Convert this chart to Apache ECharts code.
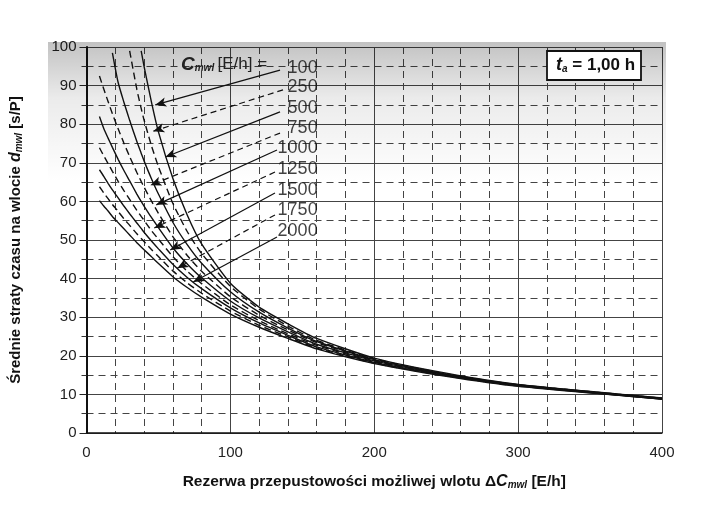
<!DOCTYPE html>
<html><head><meta charset="utf-8">
<script src="https://cdn.jsdelivr.net/npm/echarts@6/dist/echarts.min.js"></script>
<style>html,body{margin:0;padding:0;background:#fff}#c{width:706px;height:510px}</style>
</head><body><div id="c"></div>
<script>
// reserve capacity ΔC_mwl [E/h] (x positions where curves were read)
const reserve = [9,12,15,18,22,26,30,35,38,40,45,50,60,70,80,100,120,140,160,200,250,300,400];
// capacity C_mwl [E/h] of each curve
const capacities = [100,250,500,750,1000,1250,1500,1750,2000];
// mean delay d_mwl [s/P] read for each curve (null = above chart top)
const d100  = [null,null,null,null,null,null,null,null,99,95,86,78,66,56.5,49,38.8,32.6,28.3,24.5,19.4,15.5,12.6,9.1];
const d250  = [null,null,null,null,null,null,99,89,84.1,81.1,74.6,69,59.5,52.2,46.5,38,32.1,27.7,24,19.2,15.3,12.5,9];
const d500  = [null,null,null,98.5,90.8,85.7,81,75.5,72.5,70.5,66,61.9,54.6,48.8,44,36.6,31.3,27.2,23.7,19,15.2,12.5,9];
const d750  = [92.5,89.1,85.9,82.7,78.8,75.1,71.6,67.5,65.2,63.7,60.2,56.9,50.9,46,41.9,35.3,30.5,26.7,23.4,18.9,15.2,12.4,8.9];
const d1000 = [82,78.9,76.4,74,70.9,68,65.3,61.9,60,58.8,55.9,53.2,48,43.8,40.2,34.2,29.8,26.2,23,18.7,15.1,12.4,8.9];
const d1250 = [73.9,71.8,69.8,67.8,65.2,62.8,60.5,57.7,56.1,55.1,52.5,50.2,45.7,41.9,38.7,33.2,29.1,25.7,22.7,18.5,15,12.3,8.8];
const d1500 = [68.2,66.5,64.7,63,60.9,58.8,56.8,54.4,53,52,49.8,47.7,43.7,40.3,37.4,32.4,28.5,25.3,22.3,18.3,14.9,12.3,8.8];
const d1750 = [63.8,62.2,60.7,59.2,57.4,55.5,53.8,51.6,50.4,49.6,47.6,45.7,42,38.9,36.2,31.6,27.9,24.9,22,18.1,14.8,12.2,8.8];
const d2000 = [60.2,58.8,57.5,56.1,54.5,52.9,51.3,49.3,48.2,47.5,45.7,43.9,40.5,37.7,35.2,30.8,27.4,24.5,21.8,18,14.7,12.1,8.8];
const curves = [d100,d250,d500,d750,d1000,d1250,d1500,d1750,d2000];

// annotation layout (data coordinates): label column and arrow tips
const labelX = 161;
const labelY = [94.6,89.6,84.2,79,73.8,68.4,63,57.8,52.3];
const arrowStart = [[134.5,94],[136.6,88.9],[134.5,83.2],[134.5,77.7],[132.4,73.3],[131,67.6],[131,62.2],[131,56.5],[132.4,50.8]];
const arrowTip = [[47.8,85],[46.4,78.2],[54.8,71.5],[44.4,64.2],[48.5,59.1],[47.1,53.1],[58.2,47.4],[63.1,42.7],[74.2,39.1]];

const FONT = "'Liberation Sans', Arial, Helvetica, sans-serif";
const INK = '#111';

const chart = echarts.init(document.getElementById('c'), null, {renderer:'canvas'});

const series = curves.map((ys,k)=>({
  type:'line',
  name:String(capacities[k]),
  data: reserve.map((x,i)=> ys[i]==null ? null : [x, ys[i]]).filter(p=>p),
  symbol:'none', showSymbol:false,
  smooth:0.2, clip:true,
  z:3,
  lineStyle:{color:INK, width:1.4, type: k%2 ? [7,4] : 'solid'},
  emphasis:{disabled:true},
  markLine:{
    silent:true, animation:false,
    symbol:['none','arrow'], symbolSize:[7,11],
    label:{show:false},
    emphasis:{disabled:true},
    lineStyle:{color:INK, width:1.2, type: k%2 ? [6,4] : 'solid'},
    data:[[{coord:arrowStart[k]},{coord:arrowTip[k]}]]
  }
}));

series.push({
  type:'scatter', silent:true, z:4,
  symbolSize:1, itemStyle:{color:'rgba(0,0,0,0)'},
  data: capacities.map((c,i)=>({value:[labelX, labelY[i]], name:String(c)})),
  label:{show:true, position:'left', distance:0, formatter:'{b}', fontSize:18, color:INK, fontFamily:FONT}
});

const nameRich = {
  i:{fontSize:16, fontStyle:'italic', fontWeight:'bold', color:INK},
  s:{fontSize:10, fontStyle:'italic', fontWeight:'bold', color:INK, padding:[7,0,0,0]}
};

const option = {
  animation:false,
  backgroundColor:'#fff',
  textStyle:{fontFamily:FONT},
  grid:{left:86, right:44, top:47, bottom:77, containLabel:false},
  xAxis:{
    type:'value', min:0, max:400, interval:100,
    axisLine:{show:true, onZero:false, lineStyle:{color:INK, width:1.5}},
    axisTick:{show:false},
    minorTick:{show:false, splitNumber:5},
    axisLabel:{fontSize:15, color:'#222', margin:12},
    splitLine:{show:true, lineStyle:{color:'#444', width:1}},
    minorSplitLine:{show:true, lineStyle:{color:'#444', width:1, type:[7,5]}},
    name:'Rezerwa przepustowości możliwej wlotu Δ{i|C}{s|mwl} [E/h]',
    nameLocation:'middle', nameGap:40,
    nameTextStyle:{fontSize:15.5, fontWeight:'bold', color:INK, rich:nameRich}
  },
  yAxis:{
    type:'value', min:0, max:100, interval:10,
    axisLine:{show:true, onZero:false, lineStyle:{color:INK, width:2}},
    axisTick:{show:true, length:7, lineStyle:{color:'#222'}},
    minorTick:{show:true, splitNumber:2, length:5, lineStyle:{color:'#333'}},
    axisLabel:{fontSize:15, color:'#222', margin:10},
    splitLine:{show:true, lineStyle:{color:'#444', width:1}},
    minorSplitLine:{show:true, lineStyle:{color:'#444', width:1, type:[7,5]}},
    name:'Średnie straty czasu na wlocie {i|d}{s|mwl} [s/P]',
    nameLocation:'middle', nameGap:62, nameRotate:90,
    nameTextStyle:{fontSize:15, fontWeight:'bold', color:INK, rich:nameRich}
  },
  graphic:[
    {type:'rect', silent:true, z:1,
     shape:{x:48, y:42, width:618, height:140},
     style:{fill:new echarts.graphic.LinearGradient(0,0,0,1,[
       {offset:0, color:'rgba(0,0,0,0.24)'},
       {offset:0.4, color:'rgba(0,0,0,0.08)'},
       {offset:1, color:'rgba(0,0,0,0)'}])}},
    {type:'text', silent:true, z:10, left:181, top:55,
     style:{text:'{c|C}{s|mwl} {t|[E/h] =}', rich:{
       c:{fontSize:19, fontStyle:'italic', fontWeight:'bold', fill:'#222', fontFamily:FONT},
       s:{fontSize:10, fontStyle:'italic', fontWeight:'bold', fill:'#222', fontFamily:FONT, padding:[8,0,0,0]},
       t:{fontSize:17, fill:'#222', fontFamily:FONT}
     }}},
    {type:'rect', silent:true, z:10,
     shape:{x:547, y:51, width:94, height:29},
     style:{fill:'#fff', stroke:INK, lineWidth:1.8}},
    {type:'text', silent:true, z:11, left:556, top:56,
     style:{text:'{t|t}{s|a}{r| = 1,00 h}', rich:{
       t:{fontSize:18, fontStyle:'italic', fontWeight:'bold', fill:INK, fontFamily:FONT},
       s:{fontSize:10, fontStyle:'italic', fontWeight:'bold', fill:INK, fontFamily:FONT, padding:[8,0,0,0]},
       r:{fontSize:17, fontWeight:'bold', fill:INK, fontFamily:FONT}
     }}}
  ],
  series:series
};
chart.setOption(option);
</script>
</body></html>
